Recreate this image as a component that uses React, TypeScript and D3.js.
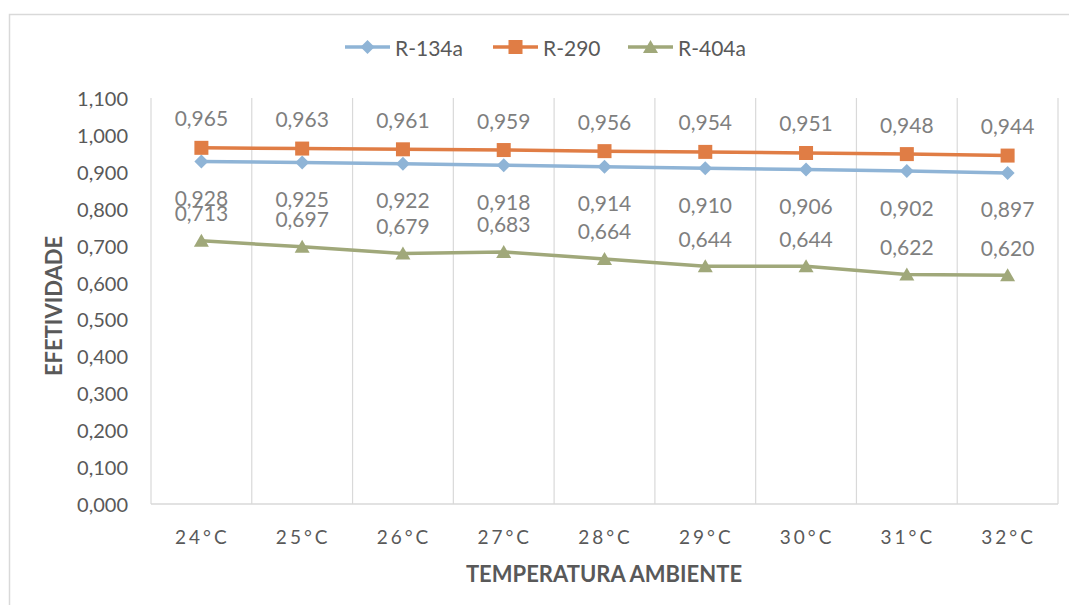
import React from 'react';
import * as d3 from 'd3';

const categories = ['24°C', '25°C', '26°C', '27°C', '28°C', '29°C', '30°C', '31°C', '32°C'];
const r134a = [0.928, 0.925, 0.922, 0.918, 0.914, 0.910, 0.906, 0.902, 0.897];
const r290 = [0.965, 0.963, 0.961, 0.959, 0.956, 0.954, 0.951, 0.948, 0.944];
const r404a = [0.713, 0.697, 0.679, 0.683, 0.664, 0.644, 0.644, 0.622, 0.620];
const yTicks = [0, 0.1, 0.2, 0.3, 0.4, 0.5, 0.6, 0.7, 0.8, 0.9, 1.0, 1.1];

const FONT = 'Lato, "Open Sans", sans-serif';
const TXT = '#595959';
const LBL = '#7f7f7f';
const GRID = '#d9d9d9';

const series = [
  { name: 'R-134a', values: r134a, color: '#8fb4d6', marker: 'diamond', dy: 36 },
  { name: 'R-290', values: r290, color: '#e07d45', marker: 'square', dy: -30 },
  { name: 'R-404a', values: r404a, color: '#a0a87a', marker: 'triangle', dy: -28 },
];

const fmt = (v: number) => d3.format('.3f')(v).replace('.', ',');

function Marker({ kind, x, y, color }: { kind: string; x: number; y: number; color: string }) {
  if (kind === 'diamond') {
    return <path d={`M${x},${y - 7}L${x + 7},${y}L${x},${y + 7}L${x - 7},${y}Z`} fill={color} />;
  }
  if (kind === 'square') {
    return <rect x={x - 7} y={y - 7} width={14} height={14} fill={color} />;
  }
  return <path d={`M${x},${y - 7}L${x + 7.5},${y + 6}L${x - 7.5},${y + 6}Z`} fill={color} />;
}

export default function App() {
  const x = d3.scaleBand<string>().domain(categories).range([151, 1058]);
  const y = d3.scaleLinear().domain([0, 1.1]).range([504, 98]);
  const cx = (c: string) => (x(c) || 0) + x.bandwidth() / 2;

  const line = d3
    .line<number>()
    .x((_, i) => cx(categories[i]))
    .y((d) => y(d));

  const legend = [
    { x0: 345, tx: 395 },
    { x0: 493, tx: 543 },
    { x0: 628, tx: 678 },
  ];

  return (
    <svg
      width={1069}
      height={605}
      style={{ position: 'absolute', left: 0, top: 0, background: '#fff' }}
      fontFamily={FONT}
    >
      <rect x={9.5} y={14.5} width={1100} height={700} fill="#fff" stroke={GRID} strokeWidth={1.5} />

      {/* vertical gridlines at category boundaries */}
      {categories.map((c) => (
        <line key={c} x1={x(c)} x2={x(c)} y1={98} y2={504} stroke={GRID} strokeWidth={1.2} />
      ))}
      <line x1={1058} x2={1058} y1={98} y2={504} stroke={GRID} strokeWidth={1.2} />
      <line x1={151} x2={1058} y1={504} y2={504} stroke={GRID} strokeWidth={1.5} />

      {/* y tick labels */}
      {yTicks.map((t) => (
        <text key={t} x={128} y={y(t)} textAnchor="end" dominantBaseline="central" fontSize={20} fill={TXT}>
          {fmt(t)}
        </text>
      ))}

      {/* x tick labels */}
      {categories.map((c) => (
        <text key={c} x={cx(c) + 1} y={536} textAnchor="middle" dominantBaseline="central" fontSize={19} fill={TXT} letterSpacing={3}>
          {c}
        </text>
      ))}

      {/* series */}
      {series.map((s) => (
        <g key={s.name}>
          <path d={line(s.values) || ''} fill="none" stroke={s.color} strokeWidth={3.5} strokeLinejoin="round" />
          {s.values.map((v, i) => (
            <Marker key={i} kind={s.marker} x={cx(categories[i])} y={y(v)} color={s.color} />
          ))}
          {s.values.map((v, i) => (
            <text
              key={'l' + i}
              x={cx(categories[i])}
              y={y(v) + s.dy}
              textAnchor="middle"
              dominantBaseline="central"
              fontSize={21}
              fill={LBL}
            >
              {fmt(v)}
            </text>
          ))}
        </g>
      ))}

      {/* legend */}
      {series.map((s, i) => (
        <g key={'lg' + s.name}>
          <line x1={legend[i].x0} x2={legend[i].x0 + 45} y1={47} y2={47} stroke={s.color} strokeWidth={3.5} />
          <Marker kind={s.marker} x={legend[i].x0 + 22.5} y={47} color={s.color} />
          <text x={legend[i].tx} y={47} dominantBaseline="central" fontSize={21} fill={TXT}>
            {s.name}
          </text>
        </g>
      ))}

      {/* axis titles */}
      <text x={604} y={573} textAnchor="middle" dominantBaseline="central" fontSize={22} fontWeight="bold" fill={TXT}>
        TEMPERATURA AMBIENTE
      </text>
      <text
        transform="translate(53,306) rotate(-90)"
        textAnchor="middle"
        dominantBaseline="central"
        fontSize={22}
        fontWeight="bold"
        fill={TXT}
      >
        EFETIVIDADE
      </text>
    </svg>
  );
}
